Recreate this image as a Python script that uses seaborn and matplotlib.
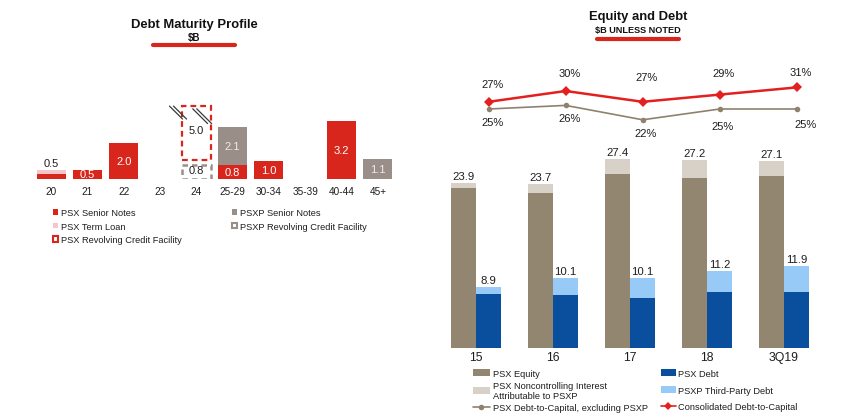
import numpy as np
import matplotlib
matplotlib.use("Agg")
import matplotlib.pyplot as plt
from matplotlib.patches import Patch
from matplotlib.lines import Line2D
import seaborn as sns

# ---------------- data: Debt Maturity Profile ($B) ----------------
maturity_cats = ["20", "21", "22", "23", "24", "25-29", "30-34", "35-39", "40-44", "45+"]
psx_senior_notes = [0.3, 0.5, 2.0, 0, 0, 0.8, 1.0, 0, 3.2, 0]
psx_term_loan = [0.2, 0, 0, 0, 0, 0, 0, 0, 0, 0]
psxp_senior_notes = [0, 0, 0, 0, 0, 2.1, 0, 0, 0, 1.1]
psxp_revolver = [0, 0, 0, 0, 0.8, 0, 0, 0, 0, 0]
psx_revolver = [0, 0, 0, 0, 5.0, 0, 0, 0, 0, 0]

# ---------------- data: Equity and Debt ($B unless noted) ----------------
years = ["15", "16", "17", "18", "3Q19"]
psx_equity = [23.2, 22.5, 25.2, 24.6, 24.9]
psx_nci = [0.7, 1.2, 2.2, 2.6, 2.2]
psx_debt = [7.8, 7.7, 7.2, 8.1, 8.1]
psxp_debt = [1.1, 2.4, 2.9, 3.1, 3.8]
consolidated_dc = [27, 30, 27, 29, 31]
psx_dc_ex_psxp = [25, 26, 22, 25, 25]

# ---------------- style ----------------
RED = "#D9261C"
PINK = "#F5C6C9"
GREY = "#9A8F88"
BROWN = "#928670"
NCI = "#D7D1C7"
BLUE = "#0A4E9E"
LBLUE = "#98CAF8"
LRED = "#E3201F"
LBROWN = "#8E826F"
TXT = "#1E1E1E"

sns.set_theme(style="white")
plt.rcParams["font.family"] = ["Liberation Sans", "DejaVu Sans"]
plt.rcParams["text.color"] = TXT

W, H = 855, 414
fig = plt.figure(figsize=(W / 100, H / 100), dpi=100)


def px_axes(x0, x1, y_top, y_bottom):
    return fig.add_axes([x0 / W, 1 - y_bottom / H, (x1 - x0) / W, (y_bottom - y_top) / H])


def fx(x):
    return x / W


def fy(y):
    return 1 - y / H


# ================= LEFT: Debt Maturity Profile =================
axL = px_axes(33, 396, 81, 180)
s = np.array(psx_senior_notes, dtype=float)
t = np.array(psx_term_loan, dtype=float)
ps = np.array(psxp_senior_notes, dtype=float)
pr = np.array(psxp_revolver, dtype=float)
r = np.array(psx_revolver, dtype=float)

common = dict(order=maturity_cats, width=0.8, saturation=1, errorbar=None, linewidth=0, ax=axL)
sns.barplot(x=maturity_cats, y=s, color=RED, **common)
sns.barplot(x=maturity_cats, y=t, bottom=s, color=PINK, **common)
sns.barplot(x=maturity_cats, y=ps, bottom=s + t, color=GREY, **common)

# dashed (undrawn) revolving credit facilities
rev_cap = 3.0   # displayed height of the truncated PSX revolver bar
rev_gap = 0.25
m_pr = pr > 0
sns.barplot(x=[c for c, m in zip(maturity_cats, m_pr) if m], y=pr[m_pr],
            order=maturity_cats, width=0.8, errorbar=None, fill=False,
            color=GREY, linewidth=1.8, linestyle=(0, (2.2, 1.6)), ax=axL)
m_r = r > 0
r_bottom = pr[m_r] + rev_gap
sns.barplot(x=[c for c, m in zip(maturity_cats, m_r) if m], y=np.minimum(r[m_r], rev_cap),
            bottom=r_bottom, order=maturity_cats, width=0.8, errorbar=None, fill=False,
            color=RED, linewidth=1.6, linestyle=(0, (2.6, 1.8)), ax=axL)

lab_kw = dict(ha="center", fontsize=8)
for i, c in enumerate(maturity_cats):
    if t[i] > 0:
        axL.annotate(f"{s[i] + t[i]:.1f}", (i, s[i] + t[i]), xytext=(0, 2),
                     textcoords="offset pixels", va="bottom", color=TXT, **lab_kw)
    elif s[i] > 0:
        axL.text(i, s[i] / 2, f"{s[i]:.1f}", va="center", color="white", **lab_kw)
    if ps[i] > 0:
        axL.text(i, s[i] + t[i] + ps[i] / 2, f"{ps[i]:.1f}", va="center", color="#EEEAE6", **lab_kw)
    if pr[i] > 0:
        axL.text(i, pr[i] * 0.6, f"{pr[i]:.1f}", va="center", color=TXT, **lab_kw)
    if r[i] > 0:
        disp = min(r[i], rev_cap)
        axL.text(i, pr[i] + rev_gap + disp * 0.55, f"{r[i]:.1f}", va="center", color=TXT, **lab_kw)

# axis-break marks (pairs of parallel slashes) at the truncated bar
i24 = int(np.argmax(r))
for x0, y0, x1, y1 in [(-0.74, 4.05, -0.38, 3.33), (-0.63, 4.05, -0.27, 3.33),
                       (-0.10, 3.90, 0.31, 3.08), (0.01, 3.90, 0.42, 3.08)]:
    axL.plot([i24 + x0, i24 + x1], [y0, y1], color="#3A3A3A", lw=0.9, clip_on=False)

axL.set_xlim(-0.5, len(maturity_cats) - 0.5)
axL.set_ylim(0, 5.5)
axL.set_yticks([])
axL.set_xlabel("")
axL.set_ylabel("")
axL.tick_params(axis="x", length=0, pad=5, labelsize=7.2, labelcolor=TXT)
sns.despine(ax=axL, left=True, bottom=True)
axL.patch.set_alpha(0)

handlesL = [
    Patch(facecolor=RED, edgecolor="none"),
    Patch(facecolor=PINK, edgecolor="none"),
    Patch(facecolor="none", edgecolor=RED, linewidth=1.5),
    Patch(facecolor=GREY, edgecolor="none"),
    Patch(facecolor="none", edgecolor=GREY, linewidth=1.5),
]
labelsL = ["PSX Senior Notes", "PSX Term Loan", "PSX Revolving Credit Facility",
           "PSXP Senior Notes", "PSXP Revolving Credit Facility"]
fig.legend(handlesL, labelsL, loc="upper left", bbox_to_anchor=(fx(53), fy(209)),
           ncol=2, frameon=False, fontsize=6.7, handlelength=0.55, handleheight=0.55,
           handletextpad=0.3, labelspacing=0.5, columnspacing=5.4, borderpad=0,
           borderaxespad=0)

fig.text(fx(194), fy(25), "Debt Maturity Profile", ha="center", va="center",
         fontsize=9.4, fontweight="bold", color="#111111")
fig.text(fx(194), fy(38), "$B", ha="center", va="center", fontsize=7,
         fontweight="bold", color="#111111")
fig.add_artist(Line2D([fx(153), fx(235)], [fy(46), fy(46)], color=RED, lw=3))

# ================= RIGHT: Equity and Debt =================
axR = px_axes(437.5, 822.5, 142, 349)
idx = np.arange(len(years))
bw = 0.33
eq = np.array(psx_equity); nci = np.array(psx_nci)
dbt = np.array(psx_debt); pxd = np.array(psxp_debt)
rkw = dict(native_scale=True, width=bw, saturation=1, errorbar=None, linewidth=0, ax=axR)
sns.barplot(x=idx - bw / 2, y=eq, color=BROWN, **rkw)
sns.barplot(x=idx - bw / 2, y=nci, bottom=eq, color=NCI, **rkw)
sns.barplot(x=idx + bw / 2, y=dbt, color=BLUE, **rkw)
sns.barplot(x=idx + bw / 2, y=pxd, bottom=dbt, color=LBLUE, **rkw)

for i in idx:
    axR.annotate(f"{eq[i] + nci[i]:.1f}", (i - bw / 2, eq[i] + nci[i]), xytext=(0, 2),
                 textcoords="offset pixels", ha="center", va="bottom", fontsize=8.2, color=TXT)
    axR.annotate(f"{dbt[i] + pxd[i]:.1f}", (i + bw / 2, dbt[i] + pxd[i]), xytext=(0, 2),
                 textcoords="offset pixels", ha="center", va="bottom", fontsize=8.2, color=TXT)

axR.set_xlim(-0.5, len(years) - 0.5)
axR.set_ylim(0, 30)
axR.set_xticks(idx)
axR.set_xticklabels(years)
axR.set_yticks([])
axR.set_xlabel("")
axR.set_ylabel("")
axR.tick_params(axis="x", length=0, pad=2.5, labelsize=8.8, labelcolor=TXT)
sns.despine(ax=axR, left=True, bottom=True)
axR.patch.set_alpha(0)

# debt-to-capital lines (points sit over the debt bars)
axP = px_axes(437.5, 822.5, 74, 146)
sns.lineplot(x=idx, y=psx_dc_ex_psxp, color=LBROWN, lw=1.2, marker="o", markersize=4,
             markeredgewidth=0, ax=axP)
sns.lineplot(x=idx, y=consolidated_dc, color=LRED, lw=1.8, marker="D", markersize=5,
             markeredgewidth=0, ax=axP)
axP.set_xlim(-0.5 - bw / 2, len(years) - 0.5 - bw / 2)
axP.set_ylim(15, 35)
axP.axis("off")
red_dy = [18, 18, 25, 22, 15]
brown_dy = [13, 13, 13, 17, 15]
brown_dx = [4, 4, 3, 3, 9]
for i in idx:
    axP.annotate(f"{consolidated_dc[i]}%", (i, consolidated_dc[i]), xytext=(4, red_dy[i]),
                 textcoords="offset pixels", ha="center", va="center", fontsize=8, color=TXT)
    axP.annotate(f"{psx_dc_ex_psxp[i]}%", (i, psx_dc_ex_psxp[i]), xytext=(brown_dx[i], -brown_dy[i]),
                 textcoords="offset pixels", ha="center", va="center", fontsize=8, color=TXT)

fig.text(fx(638), fy(17), "Equity and Debt", ha="center", va="center",
         fontsize=9.4, fontweight="bold", color="#111111")
fig.text(fx(638), fy(31), "$B UNLESS NOTED", ha="center", va="center", fontsize=6.6,
         fontweight="bold", color="#111111")
fig.add_artist(Line2D([fx(597), fx(679)], [fy(40), fy(40)], color=RED, lw=3))

h1 = [Patch(facecolor=BROWN, edgecolor="none"),
      Patch(facecolor=NCI, edgecolor="none"),
      Line2D([], [], color=LBROWN, lw=1.2, marker="o", markersize=4, markeredgewidth=0)]
l1 = ["PSX Equity", "PSX Noncontrolling Interest\nAttributable to PSXP",
      "PSX Debt-to-Capital, excluding PSXP"]
h2 = [Patch(facecolor=BLUE, edgecolor="none"),
      Patch(facecolor=LBLUE, edgecolor="none"),
      Line2D([], [], color=LRED, lw=1.2, marker="D", markersize=4.5, markeredgewidth=0)]
l2 = ["PSX Debt", "PSXP Third-Party Debt", "Consolidated Debt-to-Capital"]
fig.legend(h1, l1, loc="upper left", bbox_to_anchor=(fx(473), fy(370)), frameon=False,
           fontsize=6.7, handlelength=1.8, handleheight=0.75, handletextpad=0.4,
           labelspacing=0.3, borderpad=0, borderaxespad=0)
fig.legend(h2, l2, loc="upper left", bbox_to_anchor=(fx(661), fy(370)), frameon=False,
           fontsize=6.7, handlelength=1.6, handleheight=0.75, handletextpad=0.25,
           labelspacing=0.82, borderpad=0, borderaxespad=0)

fig.savefig("out.png", dpi=100, facecolor="white")
